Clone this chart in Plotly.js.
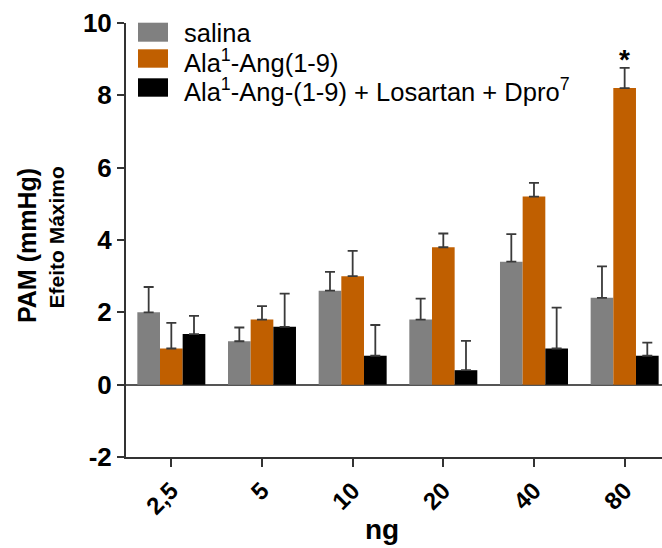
<!DOCTYPE html>
<html>
<head>
<meta charset="utf-8">
<script src="https://cdn.plot.ly/plotly-3.0.1.min.js"></script>
<style>html,body{margin:0;padding:0;background:#fff;}#chart{width:662px;height:548px;}</style>
</head>
<body>
<div id="chart"></div>
<script>
// ---- data ----
const categories = ['2,5', '5', '10', '20', '40', '80'];
const seriesNames = ['salina', 'Ala<sup>1</sup>-Ang(1-9)', 'Ala<sup>1</sup>-Ang-(1-9) + Losartan + Dpro<sup>7</sup>'];
const salina = [2.0, 1.2, 2.6, 1.8, 3.4, 2.4];
const salinaErr = [0.70, 0.38, 0.52, 0.58, 0.76, 0.87];
const ala = [1.0, 1.8, 3.0, 3.8, 5.2, 8.2];
const alaErr = [0.71, 0.37, 0.70, 0.38, 0.38, 0.56];
const alaLos = [1.4, 1.6, 0.8, 0.4, 1.0, 0.8];
const alaLosErr = [0.50, 0.92, 0.85, 0.81, 1.13, 0.36];
const yTickVals = [-2, 0, 2, 4, 6, 8, 10];
const significant = ['80'];

// ---- styles ----
const colors = ['#808080', '#C05F00', '#000000'];
const FONT = 'Liberation Sans, Arial, Helvetica, sans-serif';
const W = 662, H = 548;
const M = {l: 126, r: 0, t: 23, b: 91};
const plotW = W - M.l - M.r, plotH = H - M.t - M.b;
const px = x => (x - M.l) / plotW;
const py = y => (H - M.b - y) / plotH;

const values = [salina, ala, alaLos];
const errs = [salinaErr, alaErr, alaLosErr];

const traces = values.map((v, i) => ({
  type: 'bar',
  name: seriesNames[i],
  x: categories,
  y: v,
  marker: {color: colors[i], line: {width: 0}},
  error_y: {
    type: 'data', symmetric: false,
    array: errs[i], arrayminus: errs[i].map(() => 0),
    color: '#3a3a3a', thickness: 1.8, width: 5
  },
  showlegend: false,
  hoverinfo: 'x+y'
}));

// legend (drawn manually to match large swatches)
const swatchRows = [[22.7, 41.7], [49.3, 67.7], [78.3, 96.7]];
const textCenters = [33.5, 61.0, 90.0];
const shapes = swatchRows.map((r, i) => ({
  type: 'rect', xref: 'paper', yref: 'paper',
  x0: px(138), x1: px(168), y0: py(r[1]), y1: py(r[0]),
  fillcolor: colors[i], line: {width: 0}
}));
const annotations = seriesNames.map((n, i) => ({
  xref: 'paper', yref: 'paper', x: px(182), y: py(textCenters[i]),
  xanchor: 'left', yanchor: 'middle', text: n, showarrow: false,
  font: {family: FONT, size: 25.5, color: '#000'}
}));

// significance marks (category axes take the category index)
significant.forEach(c => {
  const k = categories.indexOf(c);
  annotations.push({
    xref: 'x', yref: 'y', x: k, y: ala[k] + alaErr[k] + 0.22,
    text: '*', showarrow: false,
    xanchor: 'center', yanchor: 'middle',
    font: {family: FONT, size: 28, weight: 'bold', color: '#000'}
  });
});

// axis titles
annotations.push({
  xref: 'paper', yref: 'paper', x: px(27), y: py(246), textangle: -90,
  xanchor: 'center', yanchor: 'middle', text: 'PAM (mmHg)', showarrow: false,
  font: {family: FONT, size: 25, weight: 'bold', color: '#000'}
});
annotations.push({
  xref: 'paper', yref: 'paper', x: px(56), y: py(237.5), textangle: -90,
  xanchor: 'center', yanchor: 'middle', text: 'Efeito Máximo', showarrow: false,
  font: {family: FONT, size: 21, weight: 'bold', color: '#000'}
});
annotations.push({
  xref: 'paper', yref: 'paper', x: px(382), y: py(529),
  xanchor: 'center', yanchor: 'middle', text: 'ng', showarrow: false,
  font: {family: FONT, size: 28, weight: 'bold', color: '#000'}
});

const layout = {
  width: W, height: H,
  margin: M,
  paper_bgcolor: '#fff', plot_bgcolor: '#fff',
  barmode: 'group', bargap: 0.25, bargroupgap: 0,
  showlegend: false,
  xaxis: {
    type: 'category', range: [-0.5, 5.412],
    showline: true, linecolor: '#333', linewidth: 2,
    ticks: 'outside', ticklen: 8, tickwidth: 2, tickcolor: '#333',
    tickangle: -45, showgrid: false, zeroline: false,
    tickfont: {family: FONT, size: 24, weight: 'bold', color: '#000'}
  },
  yaxis: {
    range: [-2, 10], tickvals: yTickVals, ticktext: yTickVals.map(String),
    showline: true, linecolor: '#333', linewidth: 2,
    ticks: 'outside', ticklen: 7, tickwidth: 2, tickcolor: '#333',
    showgrid: false, zeroline: true, zerolinecolor: '#555', zerolinewidth: 2,
    tickfont: {family: FONT, size: 26, weight: 'bold', color: '#000'}
  },
  shapes: shapes,
  annotations: annotations
};

Plotly.newPlot('chart', traces, layout, {displayModeBar: false, staticPlot: true});
</script>
</body>
</html>
